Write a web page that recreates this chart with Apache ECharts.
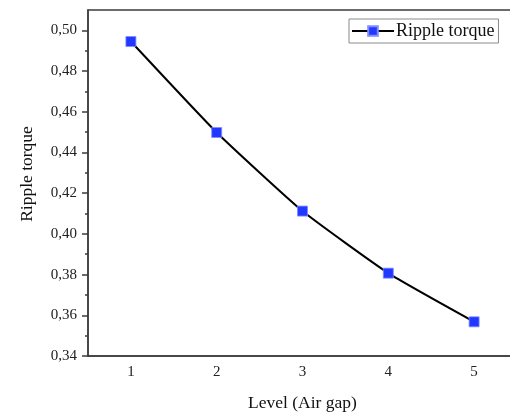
<!DOCTYPE html>
<html>
<head>
<meta charset="utf-8">
<style>
  html, body { margin: 0; padding: 0; background: #fff; }
  #chart { width: 510px; height: 412px; }
</style>
<script src="https://cdn.jsdelivr.net/npm/echarts@6/dist/echarts.min.js"></script>
</head>
<body>
<div id="chart"></div>
<script>
var levels = ['1', '2', '3', '4', '5']
var rippleTorque = [0.4945, 0.4498, 0.4112, 0.3807, 0.3568]
var yTicks = [0.34, 0.36, 0.38, 0.40, 0.42, 0.44, 0.46, 0.48, 0.50]

var font = '"Liberation Serif", "Times New Roman", serif'
var axisColor = '#3c3c3c'

var myChart = echarts.init(document.getElementById('chart'))
var option = {
  animation: false,
  grid: {
    left: 88,
    top: 10,
    right: -7,
    bottom: 56,
    show: true,
    borderColor: axisColor,
    borderWidth: 1.5,
    outerBoundsMode: 'none'
  },
  legend: {
    data: ['Ripple torque'],
    left: 349,
    top: 19,
    orient: 'horizontal',
    itemWidth: 42,
    itemHeight: 12,
    padding: [3, 4, 3, 2],
    borderColor: '#8a8a8a',
    borderWidth: 1,
    textStyle: { fontFamily: font, fontSize: 18, color: '#111', padding: [0, 0, 0, -3] }
  },
  xAxis: [
    {
      type: 'category',
      data: levels,
      boundaryGap: true,
      position: 'bottom',
      name: 'Level (Air gap)',
      nameLocation: 'middle',
      nameGap: 38,
      nameTextStyle: { fontFamily: font, fontSize: 17.5, color: '#111' },
      axisLine: { lineStyle: { color: axisColor, width: 1.5 } },
      axisTick: { alignWithLabel: true, length: 5, lineStyle: { color: axisColor, width: 1.5 } },
      axisLabel: { fontFamily: font, fontSize: 15, color: '#222', margin: 9 },
      splitLine: { show: false }
    },
    {
      // minor ticks between levels
      type: 'category',
      data: levels,
      boundaryGap: true,
      position: 'bottom',
      axisLine: { show: false },
      axisTick: { length: 3, lineStyle: { color: axisColor, width: 1.5 } },
      axisLabel: { show: false },
      splitLine: { show: false }
    }
  ],
  yAxis: {
    type: 'value',
    min: 0.34,
    max: 0.51,
    interval: 0.02,
    name: 'Ripple torque',
    nameLocation: 'middle',
    nameGap: 52,
    nameTextStyle: { fontFamily: font, fontSize: 17.5, color: '#111', padding: [0, 0, 0, 18] },
    axisLine: { show: true, lineStyle: { color: axisColor, width: 1.5 } },
    axisTick: { show: true, length: 6, customValues: yTicks, lineStyle: { color: axisColor, width: 1.5 } },
    minorTick: { show: true, splitNumber: 2, length: 3, lineStyle: { color: axisColor, width: 1.5 } },
    axisLabel: {
      customValues: yTicks,
      fontFamily: font,
      fontSize: 15,
      color: '#222',
      margin: 11,
      formatter: function (v) { return v.toFixed(2).replace('.', ',') }
    },
    splitLine: { show: false }
  },
  series: [
    {
      name: 'Ripple torque',
      type: 'line',
      xAxisIndex: 0,
      data: rippleTorque,
      symbol: 'rect',
      symbolSize: 10,
      showAllSymbol: true,
      smooth: 0.15,
      lineStyle: { color: '#000', width: 2 },
      itemStyle: { color: '#2038ff', borderColor: '#7f8cff', borderWidth: 0.8 }
    }
  ]
}
myChart.setOption(option)
</script>
</body>
</html>
